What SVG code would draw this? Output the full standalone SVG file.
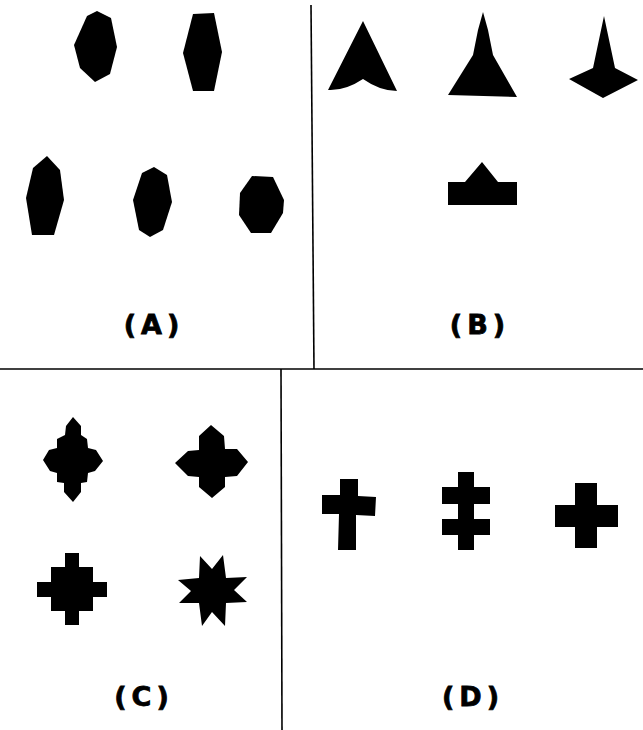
<svg xmlns="http://www.w3.org/2000/svg" width="643" height="730" viewBox="0 0 643 730">
<style>
.s{fill:#000;stroke:none}
.ln{stroke:#000;stroke-width:1.6;fill:none}
.lb{font-family:"DejaVu Sans",Verdana,sans-serif;font-weight:bold;font-size:27px;letter-spacing:5px;text-anchor:middle;fill:#000;stroke:#000;stroke-width:0.8}
</style>
<rect width="643" height="730" fill="#fff"/>
<g id="connectors">
<path class="ln" d="M311,5 L314,369"/>
<path class="ln" d="M0,369 L643,369"/>
<path class="ln" d="M281,369 L282,730"/>
</g>
<g id="A1"><polygon class="s" points="97,11 87,16 74,45 80,68 95,82 110,74 117,47 111,18"/></g>
<g id="A2"><polygon class="s" points="193,14 214,13 222,52 214,91 193,91 183,53"/></g>
<g id="A3"><polygon class="s" points="47,156 33,168 26,198 32,235 54,235 64,200 60,170"/></g>
<g id="A4"><polygon class="s" points="154,167 142,173 133,200 139,230 150,237 163,230 172,202 167,175"/></g>
<g id="A5"><polygon class="s" points="252,176 273,177 284,200 283,213 271,233 251,233 239,215 240,193"/></g>
<g id="B1"><path class="s" d="M363,21 L397,91 Q380,91 363,79 Q345,91 328,90 Z"/></g>
<g id="B2"><polygon class="s" points="483,12 488,30 493,55 517,97 448,95 473,55 478,30"/></g>
<g id="B3"><polygon class="s" points="604,16 615,68 638,80 603,98 569,79 593,68"/></g>
<g id="B4"><polygon class="s" points="448,182 465,182 482,162 498,182 517,182 517,205 448,205"/></g>
<g id="C1"><polygon class="s" points="73,417 66,426 65,435 57,439 57,448 49,450 43,460 50,471 57,473 57,482 64,483 64,492 73,502 81,492 81,483 87,482 88,473 95,471 103,461 96,450 88,448 87,439 81,435 81,426"/></g>
<g id="C2"><polygon class="s" points="211,425 199,436 199,450 188,451 175,463 188,476 199,477 199,487 212,498 225,487 225,477 237,476 248,462 237,449 225,449 224,436"/></g>
<g id="C3"><polygon class="s" points="65,553 79,553 79,567 93,567 93,582 107,582 107,597 93,597 93,611 79,611 79,625 65,625 65,611 51,611 51,597 37,597 37,582 51,582 51,567 65,567"/></g>
<g id="C4"><polygon class="s" points="200,556 212,569 223,555 226,578 247,577 234,590 247,602 226,603 225,626 212,612 202,626 199,603 179,603 191,591 178,580 199,578"/></g>
<g id="D1"><polygon class="s" points="340,479 358,479 358,496 376,497 375,516 356,515 356,550 338,550 339,514 322,514 322,495 340,495"/></g>
<g id="D2"><polygon class="s" points="458,472 474,472 474,487 490,487 490,504 474,504 474,519 490,519 490,535 474,535 474,550 458,550 458,535 442,535 442,519 458,519 458,504 442,504 442,487 458,487"/></g>
<g id="D3"><polygon class="s" points="575,483 597,483 597,505 618,505 618,527 597,527 597,548 575,548 575,527 555,527 555,505 575,505"/></g>
<g id="labels">
<text class="lb" x="154" y="334">(A)</text>
<text class="lb" x="480" y="334">(B)</text>
<text class="lb" x="144" y="706">(C)</text>
<text class="lb" x="473" y="706">(D)</text>
</g>
</svg>
